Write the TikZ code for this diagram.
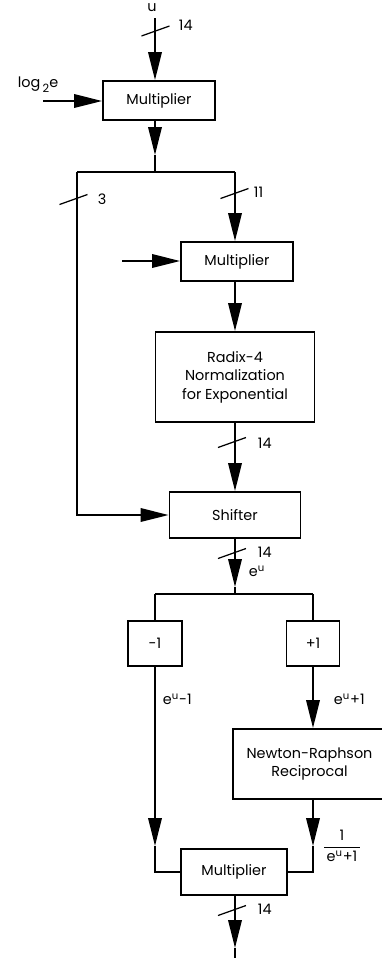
\documentclass[tikz,border=0pt]{standalone}
\usepackage{fontspec}
\setmainfont{Poppins}
\usetikzlibrary{arrows.meta}

\begin{document}
\begin{tikzpicture}[x=0.02cm, y=-0.02cm, line width=1.05pt,
  font=\fontsize{8.2}{10.5}\selectfont,
  block/.style={draw, rectangle, inner sep=0pt, align=center},
  arr/.style={-{Triangle[length=0.56cm, width=0.27cm]}},
  lbl/.style={anchor=west, inner sep=0pt},
  bus/.pic={\draw[line width=0.7pt] (-14,5) -- (14,-5);}]
\useasboundingbox (0,0) rectangle (382,958);

\coordinate (ut)   at (155,18) ;
\coordinate (lin)  at (43,101) ;
\coordinate (a1)   at (155,155) ;
\coordinate (sp1)  at (155,172) ;
\coordinate (l1)   at (77,172) ;
\coordinate (r1)   at (235,172) ;
\coordinate (min2) at (122,261) ;
\coordinate (a2)   at (235,587) ;
\coordinate (sp2)  at (235,594) ;
\coordinate (l3)   at (155,594) ;
\coordinate (r3)   at (313,594) ;
\coordinate (a3)   at (155,846) ;
\coordinate (a4)   at (313,846) ;
\coordinate (a5)   at (235,948) ;
\coordinate (out)  at (235,958) ;

\node (u) at (152,8) {u};
\node (loge) at (38,85) {log\,\raisebox{-0.6ex}{\fontsize{6.5}{7}\selectfont 2}e};
\node[block, minimum width=2.24cm, minimum height=0.78cm] (mul1) at (159,100.5) {Multiplier};
\node[block, minimum width=2.24cm, minimum height=0.78cm] (mul2) at (237,261.5) {Multiplier};
\node[block, minimum width=3.18cm, minimum height=1.8cm] (norm) at (235,377) {Radix-4\\Normalization\\for Exponential};
\node[block, minimum width=2.62cm, minimum height=0.92cm] (shift) at (235,515) {Shifter};
\node[block, minimum width=1.08cm, minimum height=0.9cm] (dec) at (155,643.5) {-1};
\node[block, minimum width=1.06cm, minimum height=0.9cm] (inc) at (313,643.5) {+1};
\node[block, minimum width=3.06cm, minimum height=1.4cm] (recip) at (309.5,764) {Newton-Raphson\\Reciprocal};
\node[block, minimum width=2.12cm, minimum height=0.92cm] (mul3) at (234,872) {Multiplier};

\draw[arr] (ut) -- (ut |- mul1.north);
\draw[arr] (lin) -- (lin -| mul1.west);
\draw[arr] (a1 |- mul1.south) -- (a1);
\draw (a1) -- (sp1);
\draw (l1) -- (r1);
\draw[arr] (r1) -- (r1 |- mul2.north);
\draw[arr] (min2) -- (min2 -| mul2.west);
\draw[arr] (r1 |- mul2.south) -- (r1 |- norm.north);
\draw[arr] (r1 |- norm.south) -- (r1 |- shift.north);
\draw[arr] (l1) -- (l1 |- shift.west) -- (shift.west);
\draw[arr] (sp2 |- shift.south) -- (a2);
\draw (a2) -- (sp2);
\draw (l3) -- (r3);
\draw (l3) -- (dec.north);
\draw (r3) -- (inc.north);
\draw[arr] (inc.south) -- (inc.south |- recip.north);
\draw[arr] (dec.south) -- (a3);
\draw (a3) -- (a3 |- mul3.west) -- (mul3.west);
\draw[arr] (recip.south -| a4) -- (a4);
\draw (a4) -- (a4 |- mul3.east) -- (mul3.east);
\draw[arr] (a5 |- mul3.south) -- (a5);
\draw (a5) -- (out);

\pic at (155.5,31) {bus};
\pic at (73.5,199.5) {bus};
\pic at (234.5,193.5) {bus};
\pic at (232,442.5) {bus};
\pic at (232,553.5) {bus};
\pic at (232,910.5) {bus};

\node[lbl] (w1) at (178,25) {14};
\node[lbl] (w2) at (97,199) {3};
\node[lbl] (w3) at (253,192) {11};
\node[lbl] (w4) at (257,443) {14};
\node[lbl] (w5) at (257,552) {14};
\node[lbl] (w6) at (257,909) {14};
\node[lbl] (eu) at (248,571) {e\textsuperscript{u}};
\node[lbl] (eum) at (162,699) {e\textsuperscript{u}-1};
\node[lbl] (eup) at (333,699) {e\textsuperscript{u}+1};
\node (frac) at (342,846) {$\displaystyle\frac{\mbox{1}}{\mbox{\,e\textsuperscript{u}+1\,}}$};

\end{tikzpicture}
\end{document}
